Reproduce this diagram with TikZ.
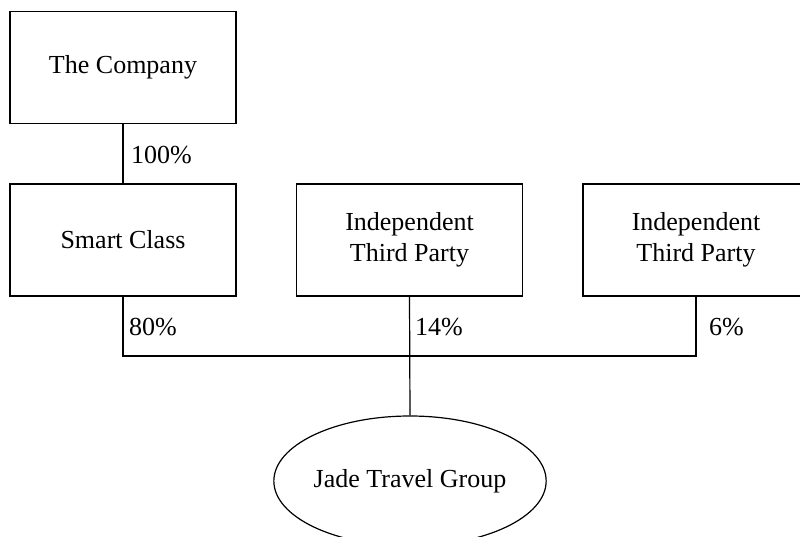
\documentclass[tikz,border=0pt]{standalone}
\usepackage{fontspec}
\setmainfont{Liberation Serif}
\usetikzlibrary{shapes.geometric}
\begin{document}
\begin{tikzpicture}[x=1pt,y=-1pt,
  box/.style={draw,line width=1.2pt,minimum width=226pt,minimum height=112pt,align=center,inner sep=0pt,font=\fontsize{26}{31}\selectfont},
  lbl/.style={anchor=west,inner sep=0pt,font=\fontsize{26}{30}\selectfont},
  conn/.style={line width=1.2pt}]
\useasboundingbox (0,0) rectangle (800,537);
\node[box] (co) at (123,67.5) {The Company};
\node[box] (sc) at (123,240) {Smart Class};
\node[box] (itp1) at (409.5,240) {Independent\\Third Party};
\node[box] (itp2) at (696,240) {Independent\\Third Party};
\node[draw,line width=1.2pt,ellipse,minimum width=268pt,minimum height=130pt,inner sep=0pt,font=\fontsize{26}{30}\selectfont] (jade) at (410,481) {Jade Travel Group};
\coordinate (hl) at (123,356);
\coordinate (hm) at (409.5,356);
\coordinate (hr) at (696,356);
\draw[conn] (co.south) -- (sc.north);
\draw[conn] (sc.south) -- (hl) -- (hr) -- (itp2.south);
\draw[conn] (itp1.south) -- (jade.north);
\node[lbl] (p100) at (131,155) {100\%};
\node[lbl] (p80) at (129,327) {80\%};
\node[lbl] (p14) at (415,327) {14\%};
\node[lbl] (p6) at (709,327) {6\%};
\end{tikzpicture}
\end{document}
